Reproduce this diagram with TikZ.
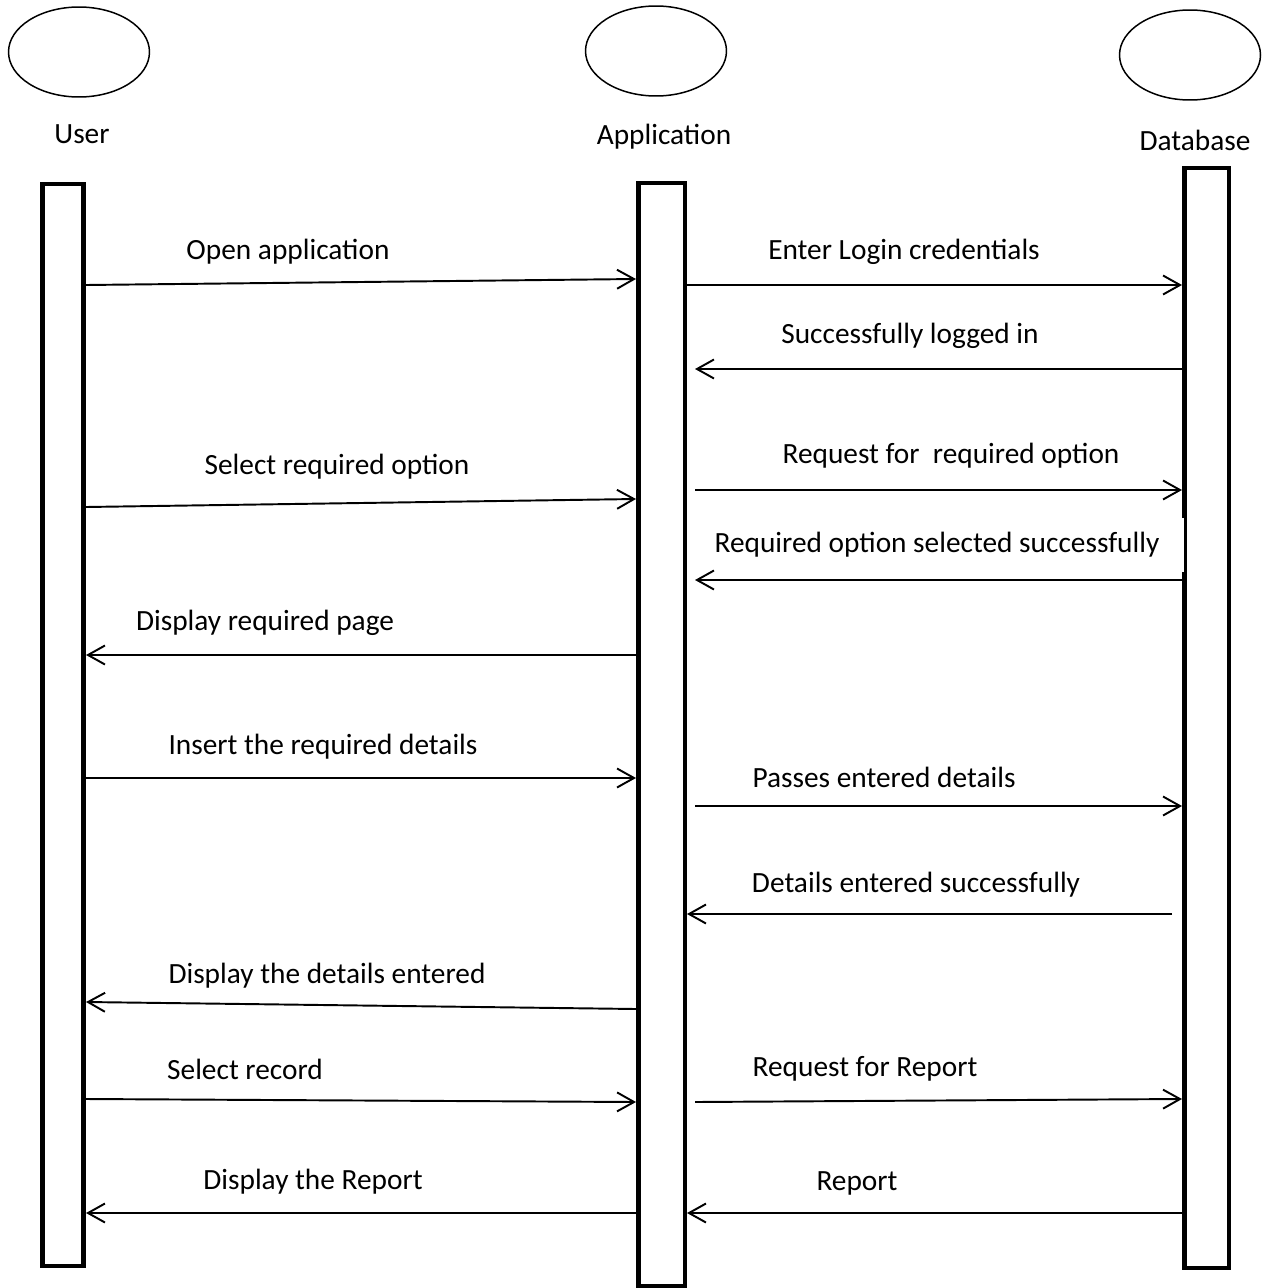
\documentclass[tikz,border=0pt]{standalone}
\usepackage{fontspec}
\setmainfont{Carlito}
\usetikzlibrary{shapes.geometric,arrows.meta}

\tikzset{
  actor/.style = {draw, ellipse, line width=0.85pt, minimum width=2.82cm, minimum height=1.8cm},
  lifebar/.style = {draw, rectangle, line width=2.7pt, fill=white},
  msg/.style = {line width=1.1pt, -{Straight Barb[length=0.34cm, width=0.38cm, line width=1.1pt]}},
  lbl/.style = {font=\fontsize{16.7}{20}\selectfont, inner sep=0pt}
}

\begin{document}
\begin{tikzpicture}[x=0.02cm, y=-0.02cm]
  \useasboundingbox (0,0) rectangle (1261,1288);

  % actors
  \node[actor] (userhead) at (79, 52) {};
  \node[actor] (apphead) at (656, 51) {};
  \node[actor] (dbhead) at (1190, 55) {};
  \node[lbl] (username) at (82, 134) {User};
  \node[lbl] (appname) at (664, 137) {Application};
  \node[lbl] (dbname) at (1195, 140) {Database};

  % lifelines
  \node[lifebar, minimum width=0.82cm, minimum height=21.64cm] (user) at (63, 725) {};
  \node[lifebar, minimum width=0.93cm, minimum height=22.06cm] (app) at (661.75, 734.5) {};
  \node[lifebar, minimum width=0.89cm, minimum height=22cm] (db) at (1206.75, 718) {};

  % message ends
  \coordinate (u1) at (86, 285);   \coordinate (a1) at (636, 279);
  \coordinate (a2) at (687, 285);  \coordinate (d2) at (1182, 285);
  \coordinate (d3) at (1182, 369); \coordinate (a3) at (695, 369);
  \coordinate (u4) at (86, 507);   \coordinate (a4) at (636, 499);
  \coordinate (a5) at (695, 490);  \coordinate (d5) at (1182, 490);
  \coordinate (d6) at (1182, 580); \coordinate (a6) at (695, 580);
  \coordinate (a7) at (636, 655);  \coordinate (u7) at (86, 655);
  \coordinate (u8) at (86, 778);   \coordinate (a8) at (636, 778);
  \coordinate (a9) at (695, 806);  \coordinate (d9) at (1182, 806);
  \coordinate (d10) at (1172, 914); \coordinate (a10) at (687, 914);
  \coordinate (a11) at (636, 1009); \coordinate (u11) at (86, 1002);
  \coordinate (u12) at (86, 1099); \coordinate (a12) at (636, 1102);
  \coordinate (a13) at (695, 1102); \coordinate (d13) at (1182, 1099);
  \coordinate (a14) at (636, 1213); \coordinate (u14) at (86, 1213);
  \coordinate (d15) at (1182, 1213); \coordinate (a15) at (687, 1213);

  % labels
  \node[lbl] (l1) at (288, 252) {Open application};
  \node[lbl] (l2) at (904, 252) {Enter Login credentials};
  \node[lbl] (l3) at (910, 336) {Successfully logged in};
  \node[lbl] (l4) at (337, 467) {Select required option};
  \node[lbl] (l5) at (951, 456) {Request for~ required option};
  \node[lbl, fill=white, minimum width=9.9cm, minimum height=1.08cm] (l6) at (937, 545) {Required option selected successfully};
  \node[lbl] (l7) at (265, 623) {Display required page};
  \node[lbl] (l8) at (323, 747) {Insert the required details};
  \node[lbl] (l9) at (884, 777) {Passes entered details};
  \node[lbl] (l10) at (916, 885) {Details entered successfully};
  \node[lbl] (l11) at (327, 976) {Display the details entered};
  \node[lbl] (l12) at (245, 1069) {Select record};
  \node[lbl] (l13) at (865, 1069) {Request for Report};
  \node[lbl] (l14) at (313, 1182) {Display the Report};
  \node[lbl] (l15) at (857, 1183) {Report};

  % messages
  \draw[msg] (u1) -- (a1);
  \draw[msg] (a2) -- (d2);
  \draw[msg] (d3) -- (a3);
  \draw[msg] (u4) -- (a4);
  \draw[msg] (a5) -- (d5);
  \draw[msg] (d6) -- (a6);
  \draw[msg] (a7) -- (u7);
  \draw[msg] (u8) -- (a8);
  \draw[msg] (a9) -- (d9);
  \draw[msg] (d10) -- (a10);
  \draw[msg] (a11) -- (u11);
  \draw[msg] (u12) -- (a12);
  \draw[msg] (a13) -- (d13);
  \draw[msg] (a14) -- (u14);
  \draw[msg] (d15) -- (a15);
\end{tikzpicture}
\end{document}
